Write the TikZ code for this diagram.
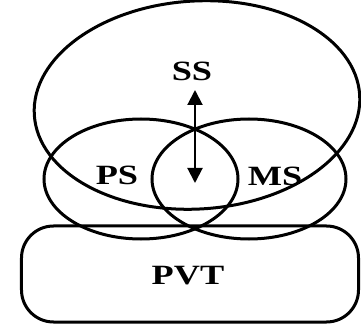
\documentclass[tikz,border=0pt]{standalone}
\usepackage{fontspec}
\usepackage{graphicx}
\setmainfont{Liberation Serif}
\usetikzlibrary{shapes.geometric,arrows.meta}
\newcommand{\widelbl}[1]{\scalebox{1.3}[1]{#1}}
\begin{document}
\begin{tikzpicture}[>={Triangle[length=15bp, width=15bp]}, x=1bp, y=1bp, line width=3bp,
  loop/.style={draw, ellipse, inner sep=0pt},
  lbl/.style={font=\fontsize{28}{28}\selectfont\bfseries, inner sep=1bp}]
\useasboundingbox (0,0) rectangle (361,334);
\node[loop, rotate=3.5, minimum width=326bp, minimum height=208bp] (ss) at (197,229) {};
\node[loop, minimum width=194bp, minimum height=120bp] (ps) at (141,155) {};
\node[loop, minimum width=194bp, minimum height=120bp] (ms) at (249,155) {};
\node[draw, rounded corners=32bp, minimum width=337bp, minimum height=96bp] (pvt) at (190,60) {};
\node[lbl] (sslbl) at (192,263) {\widelbl{SS}};
\node[lbl] (pslbl) at (117,159) {\widelbl{PS}};
\node[lbl] (mslbl) at (275,158) {\widelbl{MS}};
\node[lbl] (pvtlbl) at (188,58) {\widelbl{PVT}};
\coordinate (down) at (195,151);
\coordinate (up) at (195,244);
\draw[line width=2bp, <->] (down) -- (up);
\end{tikzpicture}
\end{document}
